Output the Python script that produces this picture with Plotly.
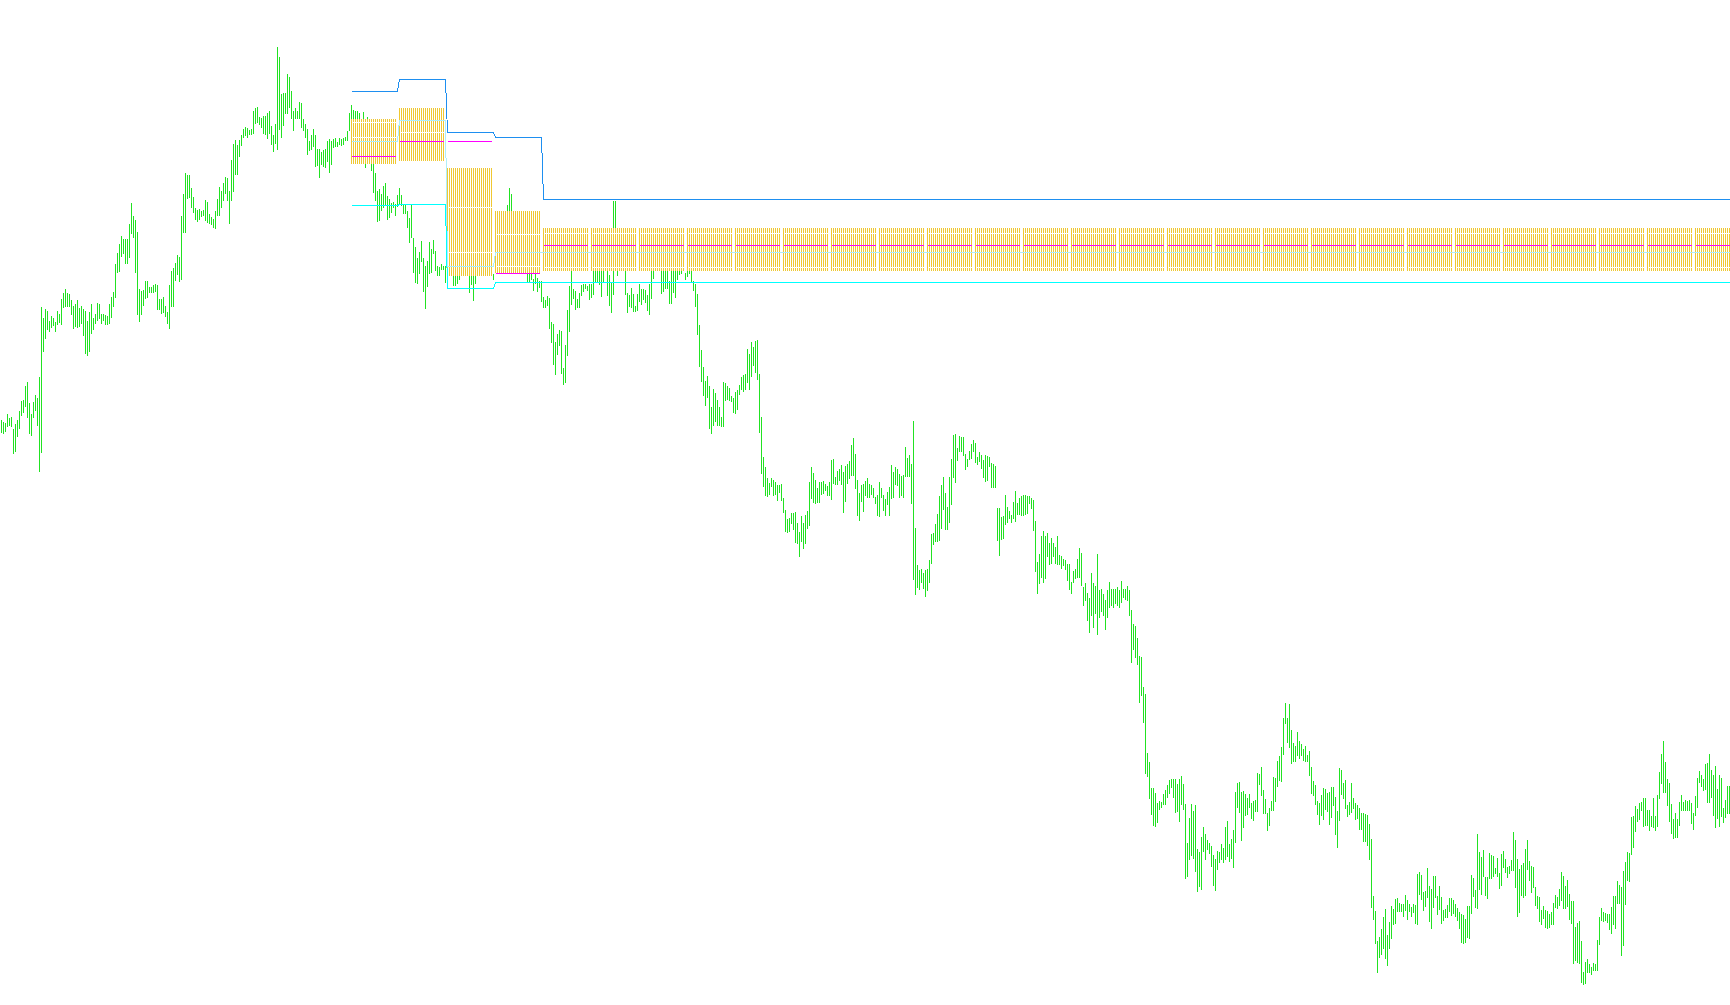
import plotly.graph_objects as go

# ---------------- price bars (high / low), one per bar, in price points ----------------
bar_high = [
    586, 584, 583, 592, 588, 589, 577, 582, 586, 595,
    605, 606, 620, 624, 603, 592, 604, 611, 608, 629,
    699, 688, 697, 695, 685, 690, 688, 684, 695, 692,
    707, 713, 717, 713, 712, 706, 700, 702, 706, 698,
    700, 697, 695, 685, 694, 702, 688, 692, 703, 702,
    692, 692, 691, 690, 702, 709, 714, 742, 753, 762,
    770, 767, 767, 767, 782, 803, 790, 786, 774, 717,
    715, 716, 725, 725, 719, 719, 721, 722, 721, 707,
    707, 709, 700, 694, 721, 735, 738, 743, 751, 749,
    790, 812, 833, 831, 831, 818, 809, 798, 796, 797,
    795, 796, 806, 804, 792, 789, 787, 795, 807, 819,
    815, 823, 829, 828, 815, 846, 862, 866, 861, 866,
    871, 877, 879, 878, 876, 877, 895, 898, 899, 889,
    888, 890, 890, 893, 895, 880, 871, 882, 959, 949,
    912, 913, 913, 932, 929, 915, 895, 898, 895, 904,
    903, 887, 882, 877, 865, 871, 877, 871, 857, 857,
    854, 856, 857, 865, 867, 865, 867, 868, 864, 868,
    867, 868, 869, 875, 893, 901, 896, 895, 895, 893,
    885, 894, 875, 889, 870, 862, 850, 833, 815, 817,
    812, 820, 823, 810, 807, 803, 804, 802, 811, 818,
    811, 801, 802, 795, 788, 802, 768, 759, 748, 754,
    765, 748, 740, 745, 764, 757, 766, 755, 740, 739,
    742, 740, 740, 752, 758, 750, 745, 742, 740, 748,
    755, 760, 752, 748, 745, 740, 738, 742, 750, 756,
    760, 765, 762, 766, 770, 772, 732, 760, 765, 775,
    780, 790, 795, 801, 818, 812, 790, 780, 775, 770,
    765, 760, 755, 750, 748, 745, 727, 732, 728, 725,
    725, 709, 706, 710, 708, 684, 682, 664, 672, 676,
    675, 638, 661, 696, 720, 740, 717, 715, 707, 713,
    721, 722, 722, 720, 722, 722, 742, 745, 745, 745,
    745, 745, 748, 745, 731, 724, 805, 805, 745, 750,
    752, 748, 745, 713, 711, 718, 712, 700, 712, 722,
    717, 717, 716, 711, 722, 745, 745, 750, 752, 750,
    745, 745, 745, 745, 725, 745, 745, 745, 745, 745,
    745, 748, 733, 745, 745, 745, 725, 722, 712, 681,
    656, 639, 625, 630, 620, 599, 617, 613, 606, 599,
    589, 624, 623, 620, 618, 610, 608, 614, 616, 621,
    629, 631, 632, 657, 652, 664, 659, 665, 666, 632,
    589, 549, 539, 528, 523, 528, 526, 524, 521, 521,
    522, 508, 496, 487, 488, 493, 493, 494, 483, 474,
    490, 483, 491, 495, 524, 539, 533, 526, 518, 524,
    524, 525, 522, 520, 524, 546, 547, 529, 535, 537,
    541, 534, 540, 542, 545, 561, 568, 552, 526, 513,
    521, 522, 525, 528, 522, 521, 518, 509, 511, 524,
    518, 511, 507, 514, 519, 541, 534, 539, 537, 532,
    530, 531, 559, 548, 551, 542, 585, 478, 441, 436,
    437, 433, 436, 437, 446, 472, 473, 482, 492, 510,
    521, 529, 513, 499, 529, 547, 571, 572, 558, 570,
    569, 569, 552, 547, 555, 562, 566, 563, 549, 554,
    551, 546, 551, 550, 549, 543, 542, 540, 498, 498,
    489, 490, 511, 499, 495, 491, 504, 515, 503, 508,
    510, 511, 511, 510, 510, 508, 506, 485, 444, 452,
    470, 475, 470, 473, 463, 468, 463, 459, 470, 451,
    450, 447, 446, 442, 442, 424, 435, 437, 447, 458,
    453, 419, 423, 413, 408, 433, 423, 420, 452, 416,
    417, 412, 406, 416, 424, 417, 417, 417, 419, 416,
    425, 417, 417, 420, 416, 396, 382, 380, 368, 350,
    349, 319, 312, 253, 244, 218, 218, 213, 203, 205,
    204, 212, 216, 221, 226, 227, 227, 227, 222, 227,
    230, 222, 202, 163, 188, 202, 195, 201, 157, 154,
    169, 179, 172, 166, 163, 160, 151, 147, 155, 154,
    162, 158, 179, 185, 162, 167, 176, 214, 223, 224,
    214, 215, 212, 208, 212, 203, 205, 206, 233, 232,
    239, 216, 207, 193, 198, 205, 229, 228, 245, 250,
    259, 288, 303, 288, 302, 276, 263, 260, 274, 265,
    262, 257, 260, 251, 255, 239, 225, 221, 205, 203,
    211, 218, 217, 213, 214, 219, 219, 209, 195, 238,
    236, 223, 226, 201, 204, 223, 208, 203, 201, 198,
    193, 193, 192, 191, 182, 167, 110, 95, 65, 69,
    77, 89, 97, 71, 84, 100, 97, 107, 108, 103,
    102, 102, 111, 106, 102, 99, 102, 101, 132, 134,
    131, 114, 115, 138, 120, 117, 130, 130, 110, 120,
    109, 96, 97, 101, 108, 108, 106, 102, 98, 94,
    92, 91, 87, 100, 100, 131, 128, 116, 172, 154,
    149, 156, 129, 129, 153, 151, 150, 138, 148, 133,
    152, 155, 147, 139, 140, 146, 174, 166, 147, 137,
    141, 143, 157, 166, 145, 140, 139, 119, 110, 109,
    96, 100, 96, 95, 92, 94, 103, 111, 109, 117,
    134, 130, 120, 126, 112, 105, 105, 79, 83, 85,
    65, 34, 44, 47, 42, 39, 43, 42, 66, 89,
    98, 94, 93, 92, 92, 99, 110, 110, 125, 121,
    119, 135, 144, 154, 153, 189, 190, 200, 197, 203,
    204, 208, 208, 196, 196, 190, 208, 190, 211, 234,
    252, 265, 244, 227, 223, 202, 187, 193, 187, 204,
    211, 204, 206, 205, 206, 203, 193, 210, 228, 235,
    231, 227, 242, 243, 252, 236, 231, 240, 217, 231,
    228, 198, 206, 220, 220,
]

bar_low = [
    573, 572, 574, 579, 580, 579, 552, 554, 569, 577,
    590, 593, 599, 588, 572, 570, 588, 595, 580, 534,
    553, 654, 667, 676, 674, 678, 680, 674, 681, 683,
    681, 698, 699, 699, 699, 691, 677, 679, 678, 679,
    682, 670, 652, 650, 654, 672, 676, 682, 685, 687,
    682, 685, 681, 681, 682, 688, 699, 708, 733, 734,
    749, 752, 742, 742, 748, 772, 768, 733, 691, 684,
    691, 700, 707, 708, 713, 713, 713, 714, 696, 696,
    692, 693, 689, 682, 677, 699, 699, 725, 731, 724,
    726, 773, 773, 807, 808, 798, 793, 786, 784, 786,
    789, 790, 785, 783, 782, 781, 778, 777, 790, 790,
    798, 805, 812, 805, 782, 805, 814, 831, 831, 849,
    860, 868, 870, 868, 871, 871, 872, 882, 883, 881,
    878, 872, 871, 867, 872, 861, 854, 862, 856, 876,
    868, 880, 892, 892, 898, 887, 875, 887, 887, 887,
    878, 875, 868, 851, 855, 856, 859, 839, 840, 828,
    841, 839, 838, 844, 833, 841, 858, 859, 859, 861,
    860, 861, 865, 865, 875, 880, 876, 878, 874, 872,
    870, 868, 838, 862, 855, 835, 813, 805, 784, 785,
    795, 798, 800, 786, 788, 793, 798, 790, 799, 802,
    800, 792, 792, 778, 763, 768, 733, 723, 722, 732,
    744, 714, 697, 719, 732, 733, 752, 735, 730, 730,
    736, 736, 723, 735, 738, 733, 720, 720, 722, 726,
    735, 740, 736, 732, 713, 721, 705, 722, 733, 738,
    742, 745, 744, 748, 750, 752, 726, 740, 745, 750,
    758, 765, 770, 775, 780, 776, 765, 760, 755, 750,
    745, 740, 736, 723, 723, 726, 715, 722, 714, 718,
    704, 698, 698, 700, 677, 663, 641, 631, 651, 660,
    632, 621, 623, 650, 674, 701, 707, 696, 698, 698,
    710, 714, 717, 715, 706, 708, 711, 723, 723, 721,
    709, 723, 738, 710, 700, 693, 711, 740, 730, 740,
    740, 738, 711, 693, 699, 698, 694, 694, 695, 704,
    701, 706, 703, 695, 691, 707, 727, 738, 740, 738,
    712, 714, 717, 717, 702, 702, 713, 708, 726, 731,
    732, 738, 726, 729, 732, 723, 715, 699, 671, 639,
    624, 610, 600, 608, 577, 572, 580, 584, 580, 580,
    579, 579, 605, 606, 605, 604, 593, 592, 596, 611,
    616, 614, 616, 623, 616, 629, 640, 633, 626, 573,
    532, 519, 510, 509, 511, 519, 510, 511, 505, 513,
    505, 493, 474, 473, 474, 482, 476, 463, 462, 449,
    464, 457, 462, 477, 480, 507, 503, 502, 503, 503,
    511, 512, 515, 510, 510, 506, 522, 521, 521, 525,
    521, 493, 504, 522, 527, 530, 530, 517, 490, 485,
    504, 494, 510, 508, 508, 511, 508, 502, 490, 489,
    508, 495, 490, 501, 490, 507, 508, 521, 520, 508,
    510, 508, 529, 529, 529, 502, 426, 411, 418, 416,
    423, 417, 409, 415, 423, 442, 461, 464, 464, 465,
    477, 496, 476, 476, 483, 501, 528, 523, 545, 554,
    554, 550, 536, 539, 546, 547, 554, 543, 541, 544,
    537, 528, 524, 525, 539, 518, 518, 518, 465, 450,
    466, 467, 481, 483, 487, 483, 487, 484, 491, 491,
    490, 490, 491, 492, 502, 497, 475, 434, 412, 422,
    428, 423, 427, 449, 441, 442, 449, 442, 441, 441,
    437, 440, 436, 425, 416, 412, 423, 427, 428, 428,
    420, 400, 405, 385, 373, 390, 378, 392, 371, 388,
    394, 390, 376, 388, 398, 400, 398, 402, 400, 398,
    403, 408, 406, 405, 390, 343, 356, 348, 341, 303,
    310, 283, 232, 229, 207, 191, 180, 179, 183, 196,
    198, 201, 201, 208, 212, 218, 208, 193, 194, 184,
    201, 196, 127, 129, 146, 150, 147, 134, 114, 119,
    116, 154, 146, 156, 152, 139, 120, 115, 136, 143,
    146, 143, 146, 149, 144, 147, 138, 163, 198, 193,
    165, 178, 190, 191, 198, 187, 185, 194, 194, 221,
    210, 192, 192, 175, 180, 195, 195, 204, 219, 225,
    224, 251, 282, 263, 258, 242, 244, 244, 250, 247,
    250, 245, 244, 244, 230, 212, 210, 201, 191, 181,
    190, 186, 196, 194, 181, 188, 200, 171, 158, 185,
    211, 207, 197, 189, 191, 193, 197, 186, 187, 176,
    176, 164, 164, 160, 146, 98, 86, 62, 33, 48,
    51, 57, 47, 40, 57, 67, 81, 82, 94, 94,
    94, 89, 95, 86, 94, 89, 93, 82, 81, 111,
    106, 95, 99, 108, 84, 77, 98, 108, 91, 96,
    82, 85, 88, 88, 94, 90, 92, 89, 85, 77,
    63, 62, 63, 68, 67, 92, 109, 98, 97, 116,
    111, 129, 110, 107, 127, 127, 129, 132, 129, 117,
    120, 138, 133, 128, 132, 135, 135, 118, 89, 93,
    110, 108, 110, 136, 125, 113, 118, 100, 97, 84,
    81, 87, 78, 77, 78, 81, 81, 98, 97, 100,
    105, 97, 97, 99, 86, 82, 42, 45, 43, 42,
    23, 21, 22, 33, 33, 31, 35, 35, 35, 61,
    85, 84, 85, 83, 76, 72, 81, 77, 102, 102,
    50, 60, 101, 125, 124, 151, 158, 174, 184, 186,
    195, 179, 180, 180, 175, 179, 178, 175, 179, 207,
    222, 213, 213, 200, 184, 172, 167, 168, 168, 180,
    195, 195, 195, 195, 195, 182, 176, 190, 198, 223,
    219, 215, 216, 203, 203, 208, 190, 178, 187, 179,
    189, 183, 188, 192, 192,
]

# ---------------- profile boxes (one value per period of 24 bars) ----------------
first_box_bar = 175
bars_per_box = 24
box_top = [887, 898, 838, 795, 778, 778, 778, 778, 778, 778, 778, 778, 778, 778, 778,
           778, 778, 778, 778, 778, 778, 778, 778, 778, 778, 778, 778, 778, 778]
box_bottom = [842, 845, 730, 733, 735, 735, 735, 735, 735, 735, 735, 735, 735, 735, 735,
              735, 735, 735, 735, 735, 735, 735, 735, 735, 735, 735, 735, 735, 735]
box_area_high = [883, 885, 798, 771, 772, 772, 772, 772, 772, 772, 772, 772, 772, 772, 772,
                 772, 772, 772, 772, 772, 772, 772, 772, 772, 772, 772, 772, 772, 772]
box_area_low = [868, 873, 753, 739, 738, 738, 738, 738, 738, 738, 738, 738, 738, 738, 738,
                738, 738, 738, 738, 738, 738, 738, 738, 738, 738, 738, 738, 738, 738]
box_poc = [864, 885, 739, 753, 753, 753, 753, 753, 753, 753, 753, 753, 753, 753, 753,
           753, 753, 753, 753, 753, 753, 753, 753, 753, 753, 753, 753, 753, 753]
box_mid = [849, 864, 864, 732, 760, 760, 760, 760, 760, 760, 760, 760, 760, 760, 760,
           760, 760, 760, 760, 760, 760, 760, 760, 760, 760, 760, 760, 760, 760]
band_upper = [914, 926, 873, 868, 806, 806, 806, 806, 806, 806, 806, 806, 806, 806, 806,
              806, 806, 806, 806, 806, 806, 806, 806, 806, 806, 806, 806, 806, 806]
band_lower = [800, 801, 717, 723, 723, 723, 723, 723, 723, 723, 723, 723, 723, 723, 723,
              723, 723, 723, 723, 723, 723, 723, 723, 723, 723, 723, 723, 723, 723]

GREEN = "#22e222"
GOLD = "#f0c832"
BLUE = "#1e8ff0"
AQUA = "#00ffff"
PALE = "#b0eef8"
MAGENTA = "#ff00ff"

n = min(len(bar_high), len(bar_low))
n_boxes = len(box_top)


def segs(pairs):
    xs, ys = [], []
    for (x0, y0, x1, y1) in pairs:
        xs += [x0, x1, None]
        ys += [y0, y1, None]
    return xs, ys


fig = go.Figure()

# price bars
bx, by = segs([(i, bar_low[i], i, bar_high[i]) for i in range(n)])
fig.add_trace(go.Scatter(x=bx, y=by, mode="lines", line=dict(color=GREEN, width=1),
                         hoverinfo="skip"))

# profile stripes
stripes, white_a, white_b, mids = [], [], [], []
for k in range(n_boxes):
    s = first_box_bar + k * bars_per_box
    e = min(s + bars_per_box - 2, n - 1)
    if s > n - 1:
        break
    for i in range(s, e + 1):
        stripes.append((i, box_bottom[k], i, box_top[k]))
    white_a.append((s, box_area_high[k], e, box_area_high[k]))
    white_b.append((s, box_area_low[k], e, box_area_low[k]))
    mids.append((s, box_mid[k], e, box_mid[k]))

sx, sy = segs(stripes)
fig.add_trace(go.Scatter(x=sx, y=sy, mode="lines", line=dict(color=GOLD, width=1),
                         hoverinfo="skip"))
wx, wy = segs(white_a + white_b)
fig.add_trace(go.Scatter(x=wx, y=wy, mode="lines", line=dict(color="#ffffff", width=1),
                         hoverinfo="skip"))
mx, my = segs(mids)
fig.add_trace(go.Scatter(x=mx, y=my, mode="lines", line=dict(color=MAGENTA, width=1),
                         hoverinfo="skip"))

# per-bar step lines
line_x = list(range(first_box_bar, n))
kidx = [min((i - first_box_bar) // bars_per_box, n_boxes - 1) for i in line_x]
for vals, col in ((box_poc, PALE), (band_upper, BLUE), (band_lower, AQUA)):
    fig.add_trace(go.Scatter(x=line_x, y=[vals[k] for k in kidx], mode="lines",
                             line=dict(color=col, width=1), hoverinfo="skip"))

fig.update_layout(
    width=1730, height=1005,
    margin=dict(l=0, r=0, t=0, b=0),
    paper_bgcolor="#ffffff", plot_bgcolor="#ffffff",
    showlegend=False, hovermode=False,
    xaxis=dict(visible=False, range=[-0.75, n - 0.75], fixedrange=True),
    yaxis=dict(visible=False, range=[0.5, 1005.5], fixedrange=True),
)

post = (
    "document.body.style.margin='0px';"
    "document.body.style.overflow='hidden';"
    "var st=document.createElement('style');"
    "st.innerHTML='svg path{shape-rendering:crispEdges !important;}';"
    "document.head.appendChild(st);"
)

fig.write_html("out.html", config={"displayModeBar": False, "staticPlot": True},
               post_script=post)
